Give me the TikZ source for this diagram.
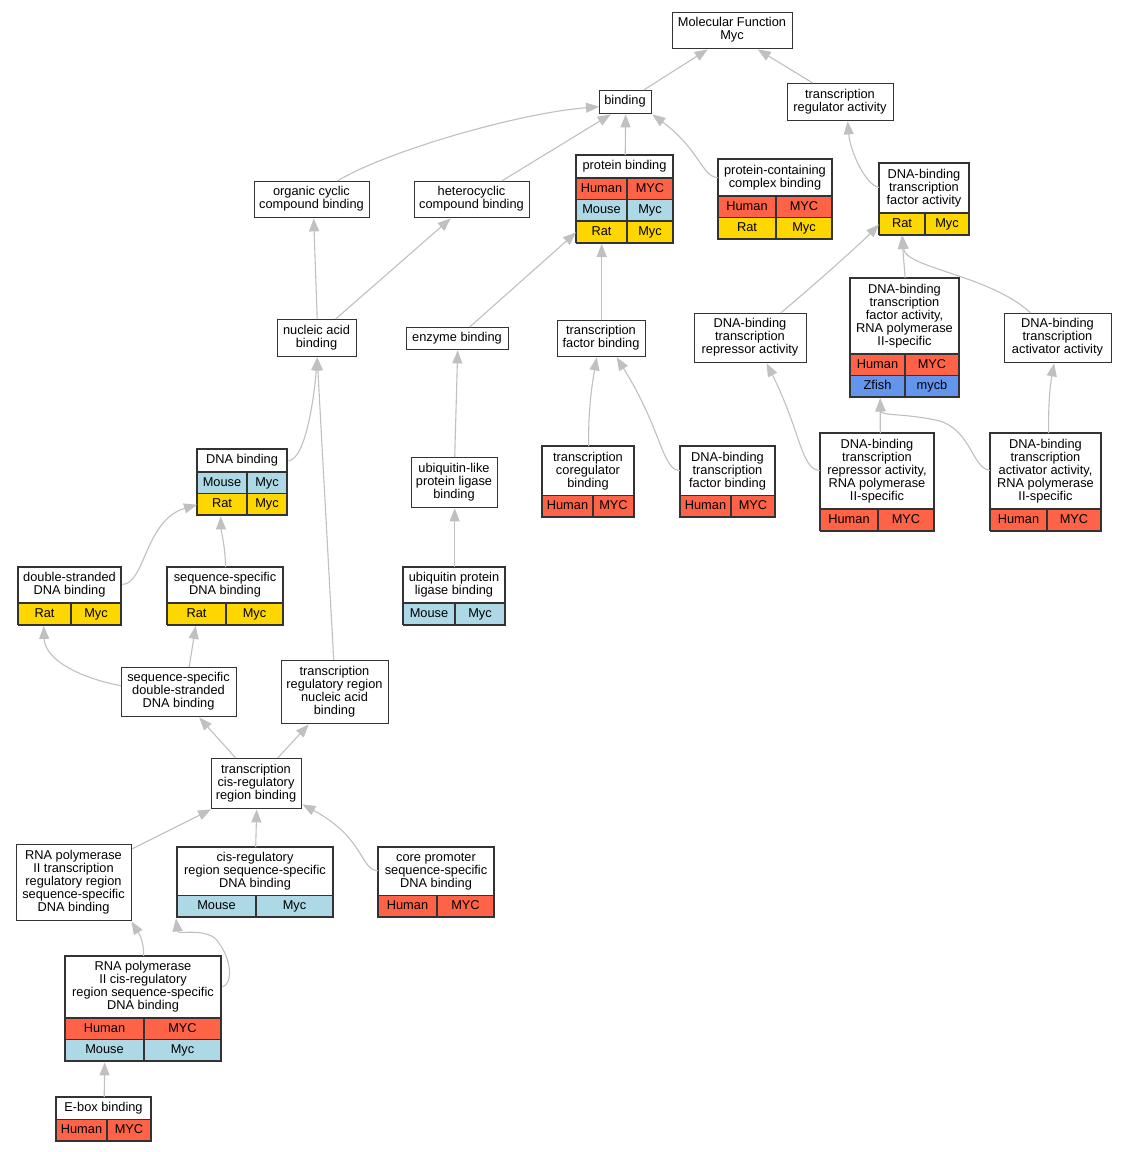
\documentclass[tikz,border=0pt]{standalone}
\usepackage{fontspec}
\setmainfont{Liberation Sans}
\usetikzlibrary{arrows.meta}

\definecolor{human}{HTML}{FF6347}
\definecolor{mouse}{HTML}{ADD8E6}
\definecolor{rat}{HTML}{FFD700}
\definecolor{zfish}{HTML}{6495ED}
\definecolor{edgegray}{HTML}{C0C0C0}
\definecolor{boxline}{HTML}{333333}

\def\rowh{21.5}
\newcommand\gofont{\fontsize{12.8}{13}\selectfont}

% term box with a header only
\newcommand\goterm[6]{%
\node[gobox, anchor=north west, minimum width={#4-#2}, minimum height={#5-#3}] (#1) at (#2,#3) {};
\node[golabel] (#1-t) at ({(#2+#4)/2},{(#3+#5)/2}) {#6};
}
% term box with a header and rows of species / gene
\newcommand\gotable[9]{%
\node[gobox, anchor=north west, minimum width={#4-#2}, minimum height={#6-#3}] (#1) at (#2,#3) {};
\node[golabel] (#1-t) at ({(#2+#4)/2},{(#3+#5)/2}) {#8};
\foreach \rc/\ra/\rb [count=\ri from 0] in {#9} {
  \pgfmathsetmacro\rtop{#5+\ri*\rowh}
  \pgfmathsetmacro\rbot{#5+(\ri+1)*\rowh}
  \path[fill=\rc] (#2,\rtop) rectangle (#4,\rbot);
  \node[rowlabel] (#1-\ri a) at ({(#2+#7)/2},{(\rtop+\rbot)/2}) {\ra};
  \node[rowlabel] (#1-\ri b) at ({(#7+#4)/2},{(\rtop+\rbot)/2}) {\rb};
  \draw[cellline] (#2,\rtop) -- (#4,\rtop) (#7,\rtop) -- (#7,\rbot);
}
\draw[cellline] (#2,#3) rectangle (#4,#6);
}

\begin{document}
\begin{tikzpicture}[x=1pt, y=-1pt,
  gobox/.style={draw=boxline, fill=white, line width=1.4pt, inner sep=0pt},
  golabel/.style={align=center, inner sep=0pt, font=\gofont},
  rowlabel/.style={golabel, text height=9.2pt, text depth=2.7pt},
  cellline/.style={draw=boxline, line width=1.4pt},
  isa/.style={draw=edgegray, line width=1.1pt, -{Triangle[length=13pt,width=10pt]}}]
\fill[white] (0,0) rectangle (1127,1152);
\useasboundingbox (0,0) rectangle (1127,1152);

\goterm{mf}{672}{12}{792}{48}{Molecular Function\\Myc}
\goterm{bind}{599}{90}{651}{113}{binding}
\goterm{tra}{787}{83}{893}{120}{transcription\\regulator activity}
\goterm{occb}{254}{181}{369}{217}{organic cyclic\\compound binding}
\goterm{hcb}{414}{181}{529}{217}{heterocyclic\\compound binding}
\gotable{pb}{576}{155}{673}{178}{242.5}{627}{protein binding}{human/Human/MYC,mouse/Mouse/Myc,rat/Rat/Myc}
\gotable{pccb}{718}{159}{832}{196}{239}{776}{protein-containing\\complex binding}{human/Human/MYC,rat/Rat/Myc}
\gotable{dbtfa}{879}{163}{969}{213}{234.5}{925}{DNA-binding\\transcription\\factor activity}{rat/Rat/Myc}
\goterm{nab}{277}{319}{356}{356}{nucleic acid\\binding}
\goterm{eb}{406}{327}{508}{349}{enzyme binding}
\goterm{tfb}{557}{320}{645}{356}{transcription\\factor binding}
\gotable{pol2tfa}{850}{278}{959}{354}{397}{905}{DNA-binding\\transcription\\factor activity,\\RNA polymerase\\II-specific}{human/Human/MYC,zfish/Zfish/mycb}
\goterm{repr}{694}{313}{806}{362}{DNA-binding\\transcription\\repressor activity}
\goterm{actv}{1004}{313}{1111}{362}{DNA-binding\\transcription\\activator activity}
\gotable{dnab}{197}{449}{287}{472}{515}{247}{DNA binding}{mouse/Mouse/Myc,rat/Rat/Myc}
\goterm{ulb}{411}{457}{497}{507}{ubiquitin-like\\protein ligase\\binding}
\gotable{tcb}{542}{446}{634}{495.5}{517}{593}{transcription\\coregulator\\binding}{human/Human/MYC}
\gotable{dbtfb}{680}{446}{775}{495.5}{517}{731}{DNA-binding\\transcription\\factor binding}{human/Human/MYC}
\gotable{repr2}{820}{433}{934}{509}{530.5}{878}{DNA-binding\\transcription\\repressor activity,\\RNA polymerase\\II-specific}{human/Human/MYC}
\gotable{actv2}{990}{433}{1101}{509}{530.5}{1047}{DNA-binding\\transcription\\activator activity,\\RNA polymerase\\II-specific}{human/Human/MYC}
\gotable{dsb}{18}{567}{121}{603}{624.5}{71}{double-stranded\\DNA binding}{rat/Rat/Myc}
\gotable{ssb}{167}{567}{283}{603}{624.5}{226}{sequence-specific\\DNA binding}{rat/Rat/Myc}
\gotable{uplb}{403}{567}{505}{603}{624.5}{455}{ubiquitin protein\\ligase binding}{mouse/Mouse/Myc}
\goterm{ssds}{121}{667}{236}{716}{sequence-specific\\double-stranded\\DNA binding}
\goterm{trrna}{281}{660}{388}{723}{transcription\\regulatory region\\nucleic acid\\binding}
\goterm{tcrb}{211}{758}{301}{808}{transcription\\cis-regulatory\\region binding}
\goterm{pol2trr}{16}{844}{131}{920}{RNA polymerase\\II transcription\\regulatory region\\sequence-specific\\DNA binding}
\gotable{crsb}{177}{847}{333}{895.5}{917}{256}{cis-regulatory\\region sequence-specific\\DNA binding}{mouse/Mouse/Myc}
\gotable{cpsb}{378}{847}{494}{895.5}{917}{437}{core promoter\\sequence-specific\\DNA binding}{human/Human/MYC}
\gotable{pol2crsb}{65}{956}{221}{1018}{1061}{144}{RNA polymerase\\II cis-regulatory\\region sequence-specific\\DNA binding}{human/Human/MYC,mouse/Mouse/Myc}
\gotable{ebox}{56}{1097}{151}{1119.5}{1141}{107}{E-box binding}{human/Human/MYC}

% is_a links, child to parent
\draw[isa] ([xshift=18pt]bind.north) -- ([xshift=-25pt]mf.south);
\draw[isa] ([xshift=-28pt]tra.north) -- ([xshift=25pt]mf.south);
\draw[isa] ([xshift=25pt]occb.north) .. controls (387,151) and (519,113) .. ([yshift=-4.5pt]bind.west);
\draw[isa] ([xshift=29.5pt]hcb.north) -- ([xshift=-15pt]bind.south);
\draw[isa] (pb.north) -- (bind.south);
\draw[isa] ([yshift=22pt]pccb.west) .. controls (702,177) and (700,150) .. (bind.south east);
\draw[isa] ([yshift=12pt]dbtfa.west) .. controls (865,185) and (850,150) .. ([xshift=7pt]tra.south);
\draw[isa] (nab.north) -- ([xshift=1.5pt]occb.south);
\draw[isa] ([xshift=18.5pt]nab.north) -- ([xshift=-21.5pt]hcb.south);
\draw[isa] ([xshift=12pt]eb.north) -- ([yshift=-33pt]pb.west);
\draw[isa] (tfb.north) -- ([xshift=-23.5pt]pb.south);
\draw[isa] ([xshift=30pt]repr.north) .. controls (820,280) and (862,242) .. ([yshift=-25pt]dbtfa.west);
\draw[isa] (pol2tfa.north) -- ([xshift=-23pt]dbtfa.south);
\draw[isa] ([xshift=-27.5pt]actv.north) .. controls (990,275) and (905,268) .. ([xshift=-22pt]dbtfa.south);
\draw[isa] ([yshift=22pt]dnab.east) .. controls (305,460) and (314,400) .. (nab.south);
\draw[isa] ([xshift=-1.5pt]trrna.north) -- (nab.south);
\draw[isa] (ulb.north) -- (eb.south);
\draw[isa] (uplb.north) -- (ulb.south);
\draw[isa] (tcb.north) .. controls (588,410) and (592,385) .. ([xshift=-5pt]tfb.south);
\draw[isa] ([yshift=11.5pt]dbtfb.west) .. controls (662,470) and (662,430) .. ([xshift=15pt]tfb.south);
\draw[isa] ([yshift=12pt]repr2.west) .. controls (801,470) and (801,432) .. ([xshift=16pt]repr.south);
\draw[isa] ([xshift=2.6pt]repr2.north) -- ([xshift=-25pt]pol2tfa.south);
\draw[isa] ([yshift=12pt]actv2.west) .. controls (972,468) and (972,432) .. (940,421) .. controls (905,413) and (881,416) .. ([xshift=-25pt]pol2tfa.south);
\draw[isa] ([xshift=2.5pt]actv2.north) .. controls (1048,400) and (1051,380) .. ([xshift=-4pt]actv.south);
\draw[isa] ([yshift=12pt]dsb.east) .. controls (145,584) and (145,520) .. ([yshift=-22pt]dnab.west);
\draw[isa] (ssb.north) .. controls (225,545) and (221,530) .. ([xshift=-22pt]dnab.south);
\draw[isa] ([yshift=6.5pt]ssds.west) .. controls (80,678) and (45,660) .. ([xshift=-26.5pt]dsb.south);
\draw[isa] ([xshift=10pt]ssds.north) -- ([xshift=-30pt]ssb.south);
\draw[isa] ([xshift=-21pt]tcrb.north) -- ([xshift=20pt]ssds.south);
\draw[isa] ([xshift=21pt]tcrb.north) -- ([xshift=-26.5pt]trrna.south);
\draw[isa] ([yshift=34pt]pol2trr.east) -- (tcrb.south west);
\draw[isa] (crsb.north) -- (tcrb.south);
\draw[isa] ([yshift=12pt]cpsb.west) .. controls (360,870) and (365,838) .. ([yshift=5pt]tcrb.south east);
\draw[isa] (pol2crsb.north) .. controls (144,940) and (138,932) .. ([xshift=-1pt]pol2trr.south east);
\draw[isa] ([yshift=22.5pt]pol2crsb.east) .. controls (232,985) and (234,960) .. (215,938) .. controls (200,928) and (178,935) .. ([xshift=-1pt]crsb.south west);
\draw[isa] (ebox.north) -- ([xshift=-39pt]pol2crsb.south);
\end{tikzpicture}
\end{document}
